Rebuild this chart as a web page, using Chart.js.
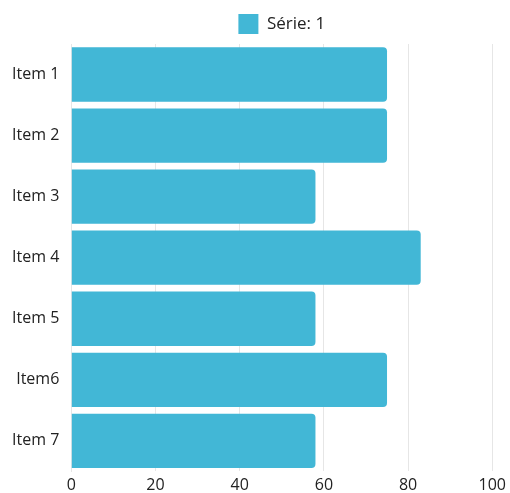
<!DOCTYPE html>
<html>
<head>
<meta charset="utf-8">
<script src="https://cdn.jsdelivr.net/npm/chart.js@4"></script>
<style>
  html, body { margin: 0; padding: 0; background: #fff; }
  #wrap { width: 510px; height: 493px; }
</style>
</head>
<body>
<div id="wrap"><canvas id="barChart"></canvas></div>
<script>
const categories = ['Item 1', 'Item 2', 'Item 3', 'Item 4', 'Item 5', 'Item6', 'Item 7'];
const seriesName = 'Série: 1';
const seriesValues = [75, 75, 58, 83, 58, 75, 58];
const xTicks = [0, 20, 40, 60, 80, 100];

const barColor = '#42b7d6';
const fontFamily = '"Open Sans", "Noto Sans", sans-serif';

const ctx = document.getElementById('barChart').getContext('2d');

new Chart(ctx, {
  type: 'bar',
  data: {
    labels: categories,
    datasets: [
      {
        label: seriesName,
        data: seriesValues,
        backgroundColor: barColor,
        borderWidth: 0,
        borderRadius: 4,
        borderSkipped: 'start',
        barPercentage: 0.89,
        categoryPercentage: 1,
      },
    ],
  },
  options: {
    indexAxis: 'y',
    responsive: true,
    maintainAspectRatio: false,
    animation: false,
    layout: {
      padding: { top: 6, left: 0, right: 16, bottom: -8 },
    },
    plugins: {
      legend: {
        position: 'top',
        fullSize: false, // center the legend over the plot area only
        labels: {
          boxWidth: 20,
          boxHeight: 20,
          color: '#222',
          font: { family: fontFamily, size: 17 },
          padding: 8,
        },
      },
      tooltip: { enabled: false },
    },
    scales: {
      x: {
        min: xTicks[0],
        max: xTicks[xTicks.length - 1],
        afterBuildTicks: (axis) => {
          axis.ticks = xTicks.map((v) => ({ value: v }));
        },
        grid: { color: '#e6e6e6', drawTicks: false },
        border: { display: false },
        ticks: {
          color: '#222',
          padding: 4,
          font: { family: fontFamily, size: 16 },
        },
      },
      y: {
        grid: { display: false, drawTicks: false },
        border: { display: true, color: '#e6e6e6' },
        ticks: {
          color: '#222',
          padding: 12,
          font: { family: fontFamily, size: 16 },
        },
      },
    },
  },
});
</script>
</body>
</html>
